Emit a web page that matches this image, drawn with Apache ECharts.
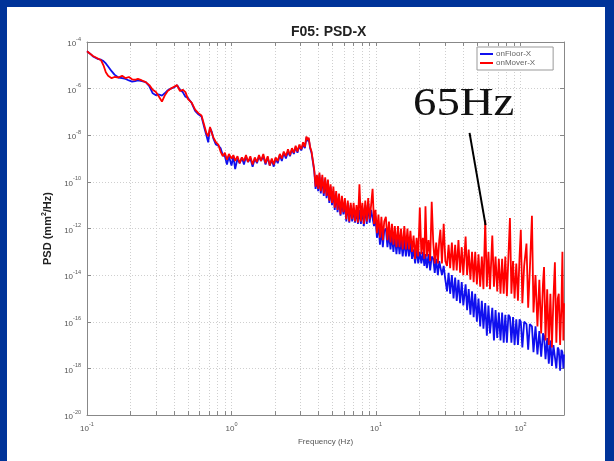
<!DOCTYPE html>
<html><head><meta charset="utf-8">
<script src="https://cdn.jsdelivr.net/npm/echarts@6/dist/echarts.min.js"></script>
<style>html,body{margin:0;padding:0;background:#fff}#c{width:614px;height:461px}</style>
</head><body><div id="c"></div>
<script>
// Frequency (Hz)
const freq = [
0.100,0.105,0.110,0.118,0.125,0.130,0.135,0.140,0.148,0.155,
0.165,0.175,0.185,0.195,0.205,0.215,0.225,0.240,0.255,0.270,
0.285,0.300,0.315,0.330,0.345,0.360,0.380,0.400,0.420,0.440,
0.460,0.480,0.500,0.530,0.560,0.590,0.620,0.650,0.670,0.690,
0.710,0.730,0.750,0.780,0.810,0.840,0.870,0.900,0.930,0.960,
1.00,1.03,1.06,1.10,1.14,1.18,1.22,1.26,1.30,1.35,
1.40,1.45,1.50,1.55,1.60,1.66,1.72,1.78,1.84,1.90,
1.96,2.02,2.09,2.16,2.23,2.30,2.38,2.46,2.54,2.62,
2.70,2.78,2.86,2.95,3.04,3.13,3.22,3.30,3.36,3.42,
3.50,3.58,3.66,3.74,3.82,3.90,3.98,4.06,4.15,4.25,
4.35,4.45,4.55,4.65,4.75,4.85,4.96,5.07,5.18,5.30,
5.42,5.55,5.68,5.81,5.95,6.09,6.23,6.38,6.53,6.68,
6.84,7.00,7.16,7.33,7.50,7.68,7.86,8.05,8.24,8.43,
8.63,8.83,9.04,9.25,9.47,9.69,9.92,10.15,10.4,10.65,
10.9,11.15,11.4,11.7,12.0,12.3,12.6,12.9,13.2,13.5,
13.85,14.2,14.55,14.9,15.3,15.7,16.1,16.5,16.9,17.3,
17.75,18.2,18.65,19.1,19.6,20.1,20.6,21.1,21.6,22.0,
22.5,23.1,23.7,24.3,24.9,25.5,26.1,26.8,27.4,27.9,
28.6,29.4,30.2,31.0,31.8,32.6,33.5,34.4,35.3,36.2,
37.2,38.2,39.2,40.2,41.7,42.7,43.8,45.0,46.2,47.4,
48.6,49.9,51.2,52.6,54.0,55.4,57.0,58.5,60.0,61.5,
63.8,65.5,67.2,69.0,70.8,72.7,74.6,76.5,78.5,80.5,
82.5,84.5,86.5,88.8,91.0,93.5,96.0,98.5,100.5,103,
106,110,113,116,120,123,127,131,135,139,
143,145.5,149,153,157,161,165,169,173,177,
181,184,188,192,195,198,200
];
// PSD (mm^2/Hz) of onFloor-X (blue)
const onFloorX = [
3.98e-5,3.16e-5,2.4e-5,1.9e-5,1.74e-5,1.51e-5,1.2e-5,8.9e-6,5.6e-6,3.98e-6,
3.0e-6,2.82e-6,2.6e-6,2.24e-6,2.0e-6,2.1e-6,2.24e-6,2.1e-6,1.9e-6,1.26e-6,
6.3e-7,5.2e-7,5.6e-7,5.0e-7,6.3e-7,8.3e-7,1.0e-6,1.12e-6,1.41e-6,8.9e-7,
7.1e-7,4.5e-7,4.0e-7,2.4e-7,1.12e-7,7.9e-8,6.3e-8,2.0e-8,1.0e-8,5.0e-9,
2.0e-8,1.41e-8,7.1e-9,4.0e-9,3.55e-9,2.8e-9,1.41e-9,1.26e-9,5.6e-10,1.26e-9,
5.0e-10,1.26e-9,3.55e-10,1.0e-9,6.3e-10,1.12e-9,5.6e-10,1.26e-9,7.1e-10,1.0e-9,
4.5e-10,1.0e-9,6.3e-10,1.26e-9,7.9e-10,1.26e-9,5.6e-10,1.12e-9,5.0e-10,8.9e-10,
4.5e-10,1.0e-9,6.3e-10,1.41e-9,7.9e-10,1.78e-9,1.0e-9,2.0e-9,1.26e-9,2.5e-9,
1.58e-9,3.16e-9,1.78e-9,3.55e-9,2.24e-9,4.0e-9,2.8e-9,7.9e-9,5.6e-9,7.1e-9,
2.8e-9,1.78e-9,7.1e-10,2.8e-10,5.0e-11,1.58e-10,4.0e-11,2.0e-10,3.16e-11,1.58e-10,
2.5e-11,1.26e-10,2.0e-11,7.9e-11,1.26e-11,6.3e-11,1.0e-11,4.0e-11,6.3e-12,3.16e-11,
5.0e-12,2.0e-11,3.55e-12,1.58e-11,4.0e-12,1.26e-11,2.0e-12,1.26e-11,1.78e-12,1.0e-11,
2.0e-12,7.9e-12,1.78e-12,6.3e-12,1.58e-12,6.3e-12,1.58e-12,7.9e-12,1.26e-12,1.0e-11,
1.58e-12,1.26e-11,1.78e-12,6.3e-12,6.3e-12,1.26e-12,3.16e-12,4.0e-13,1.58e-12,2.0e-13,
1.0e-12,1.58e-13,7.9e-13,1.0e-12,1.58e-13,6.3e-13,1.26e-13,5.0e-13,1.0e-13,5.0e-13,
7.9e-14,4.0e-13,7.9e-14,3.16e-13,6.3e-14,3.16e-13,6.3e-14,3.16e-13,6.3e-14,2.5e-13,
5.0e-14,1.26e-13,3.16e-14,1.26e-13,3.16e-14,1.0e-13,3.16e-14,1.0e-13,2.5e-14,7.9e-14,
2.0e-14,7.9e-14,1.58e-14,6.3e-14,5.0e-14,1.26e-14,5.0e-14,1.0e-14,4.0e-14,4.0e-14,
1.0e-14,2.5e-14,6.3e-15,2.0e-15,1.26e-14,1.58e-15,1.0e-14,1.0e-15,7.9e-15,7.9e-16,
6.3e-15,6.3e-16,5.0e-15,5.0e-16,4.0e-15,3.16e-16,2.5e-15,2.0e-16,2.0e-15,1.58e-16,
1.58e-15,1.0e-16,1.0e-15,6.3e-17,7.9e-16,5.0e-17,6.3e-16,2.5e-17,5.0e-16,3.16e-17,
4.0e-16,1.58e-17,3.16e-16,2.0e-17,2.5e-16,1.58e-17,2.5e-16,1.26e-17,2.0e-16,1.26e-17,
2.0e-16,1.58e-16,1.26e-17,1.58e-16,1.0e-17,1.26e-16,1.0e-17,1.26e-16,1.0e-16,7.9e-18,
1.0e-16,7.9e-17,6.3e-18,7.9e-17,6.3e-17,5.0e-18,6.3e-17,4.0e-18,4.0e-17,3.16e-18,
3.16e-17,2.5e-17,2.5e-18,2.0e-17,1.58e-18,1.58e-17,1.26e-18,1.0e-17,1.0e-17,1.0e-18,
7.9e-18,6.3e-18,7.9e-19,6.3e-18,5.0e-18,1.0e-18,4.0e-18
];
// PSD (mm^2/Hz) of onMover-X (red)
const onMoverX = [
3.98e-5,3.16e-5,2.51e-5,2.0e-5,1.66e-5,1.0e-5,5.0e-6,3.55e-6,2.82e-6,3.16e-6,
3.0e-6,3.55e-6,2.82e-6,3.16e-6,2.51e-6,2.4e-6,2.6e-6,2.24e-6,1.9e-6,1.41e-6,
8.9e-7,7.1e-7,4.5e-7,2.8e-7,5.0e-7,7.6e-7,1.0e-6,1.2e-6,1.41e-6,7.9e-7,
8.9e-7,7.1e-7,3.55e-7,2.5e-7,1.26e-7,8.9e-8,7.1e-8,2.5e-8,1.26e-8,8.9e-9,
2.24e-8,1.26e-8,7.9e-9,5.0e-9,4.0e-9,2.0e-9,1.26e-9,1.78e-9,8.9e-10,1.58e-9,
1.0e-9,1.41e-9,7.9e-10,1.26e-9,6.3e-10,1.12e-9,7.9e-10,1.41e-9,7.1e-10,1.26e-9,
5.6e-10,1.12e-9,7.1e-10,1.41e-9,7.9e-10,1.58e-9,6.3e-10,1.26e-9,5.0e-10,1.0e-9,
5.6e-10,1.12e-9,7.9e-10,1.58e-9,1.0e-9,2.0e-9,1.26e-9,2.5e-9,1.41e-9,2.8e-9,
1.78e-9,3.55e-9,2.0e-9,4.0e-9,2.5e-9,5.0e-9,3.16e-9,8.9e-9,6.3e-9,7.9e-9,
3.16e-9,2.0e-9,7.9e-10,3.16e-10,6.3e-11,2.0e-10,5.0e-11,2.5e-10,4.0e-11,2.0e-10,
3.16e-11,1.58e-10,2.5e-11,1.26e-10,1.58e-11,7.9e-11,1.26e-11,6.3e-11,7.9e-12,4.0e-11,
6.3e-12,3.16e-11,4.0e-12,2.5e-11,5.0e-12,2.0e-11,2.5e-12,1.58e-11,2.0e-12,1.26e-11,
2.5e-12,1.26e-11,2.0e-12,1.0e-11,1.78e-12,7.9e-11,2.0e-12,1.26e-11,1.58e-12,1.58e-11,
2.0e-12,2.0e-11,2.5e-12,1.0e-11,5.0e-11,1.58e-12,6.3e-12,6.3e-13,4.0e-12,4.0e-13,
3.16e-12,3.16e-13,2.0e-12,3.16e-12,3.16e-13,2.0e-12,2.5e-13,1.58e-12,2.0e-13,1.26e-12,
1.58e-13,1.26e-12,1.58e-13,1.0e-12,1.26e-13,1.26e-12,1.26e-13,1.0e-12,1.26e-13,7.9e-13,
1.0e-13,5.0e-13,5.0e-14,4.0e-13,6.3e-14,7.9e-12,7.9e-14,4.0e-13,5.0e-14,8.9e-12,
6.3e-14,3.16e-13,4.0e-14,1.41e-11,2.5e-13,3.16e-14,2.5e-13,3.16e-14,3.16e-13,8.9e-13,
3.16e-14,1.58e-12,4.0e-14,2.5e-14,2.0e-13,2.0e-14,2.5e-13,1.58e-14,2.0e-13,1.58e-14,
3.16e-13,1.26e-14,1.58e-13,1.0e-14,4.5e-13,1.0e-14,1.26e-13,6.3e-15,1.0e-13,5.0e-15,
1.0e-13,4.0e-15,7.9e-14,3.16e-15,6.3e-14,2.5e-15,2.24e-12,3.16e-15,1.0e-13,2.5e-15,
5.0e-13,3.16e-15,6.3e-14,2.0e-15,5.0e-14,1.58e-15,5.0e-14,1.58e-15,6.3e-14,1.26e-15,
6.3e-14,2.8e-12,1.58e-15,4.0e-14,1.0e-15,3.16e-14,7.9e-16,6.3e-14,8.9e-13,6.3e-16,
2.5e-14,2.24e-13,4.0e-16,1.58e-14,3.55e-12,2.5e-16,1.0e-14,6.3e-17,6.3e-15,3.16e-17,
4.0e-15,2.24e-14,1.58e-17,2.5e-15,1.0e-17,1.58e-15,7.9e-18,1.0e-15,3.55e-14,1.26e-17,
1.0e-15,1.58e-15,1.0e-17,5.0e-16,1.0e-13,1.58e-17,6.3e-16
];
// axis ticks and annotation
const minorFreqs = [0.2,0.3,0.4,0.5,0.6,0.7,0.8,0.9,2,3,4,5,6,7,8,9,20,30,40,50,60,70,80,90];
const pointerLine = [[44.4, 1.26e-8],[57.3, 1.4e-12]];
const annotText = '65Hz';

const chart = echarts.init(document.getElementById('c'), null, {renderer:'canvas'});
const zip = (a,b) => a.map((v,i)=>[v,b[i]]);
const supFmt = (v) => {
  const l = Math.log10(v); const e = Math.round(l);
  if (Math.abs(l - e) > 1e-6) return '';
  return '{b|10}{s|' + e + '}';
};
const rich = {
  b:{fontSize:8,color:'#555',fontFamily:'Liberation Sans',lineHeight:12,verticalAlign:'bottom'},
  s:{fontSize:5.5,color:'#555',fontFamily:'Liberation Sans',lineHeight:12,verticalAlign:'top'}
};
const gridLine = {color:'#cfcfcf',type:[1,2],width:1};
const minorGrid = minorFreqs.map(f=>({xAxis:f}));
const tickLen = 0.17; // decades
const minorTicks = [];
minorFreqs.forEach(f=>{
  minorTicks.push([{coord:[f,1e-20],lineStyle:{color:'#888',type:'solid'}},{coord:[f,Math.pow(10,-20+tickLen)]}]);
  minorTicks.push([{coord:[f,1e-4],lineStyle:{color:'#888',type:'solid'}},{coord:[f,Math.pow(10,-4-tickLen)]}]);
});

chart.setOption({
  animation:false,
  backgroundColor:'#ffffff',
  title:{text:'F05: PSD-X',left:286,top:20,textStyle:{fontSize:14,fontWeight:'bold',color:'#222',fontFamily:'Liberation Sans'}},
  legend:{
    data:['onFloor-X','onMover-X'],orient:'vertical',left:477,top:47,
    icon:'rect',itemWidth:13,itemHeight:2,itemGap:1,
    padding:[3,18,3,3],backgroundColor:'#fff',borderColor:'#999',borderWidth:1,borderRadius:0,
    textStyle:{fontSize:8,color:'#666',fontFamily:'Liberation Sans',padding:[0,0,0,-2]}
  },
  grid:{left:87,right:50,top:42,bottom:46},
  xAxis:[{
    type:'log',logBase:10,min:0.1,max:200,
    name:'Frequency (Hz)',nameLocation:'middle',nameGap:22,
    nameTextStyle:{fontSize:8,color:'#555',fontFamily:'Liberation Sans'},
    axisLine:{show:true,lineStyle:{color:'#888',width:1}},
    axisTick:{show:true,inside:true,length:4,lineStyle:{color:'#888'}},
    axisLabel:{formatter:supFmt,rich:rich,margin:6,showMaxLabel:false},
    splitLine:{show:true,lineStyle:gridLine}
  },{
    type:'log',logBase:10,min:0.1,max:200,position:'top',
    axisLine:{show:true,lineStyle:{color:'#888',width:1}},
    axisTick:{show:true,inside:true,length:4,lineStyle:{color:'#888'}},
    axisLabel:{show:false},splitLine:{show:false}
  }],
  yAxis:[{
    type:'log',logBase:10,min:1e-20,max:1e-4,interval:2,splitNumber:8,
    name:'PSD (mm{sup|2}/Hz)',nameLocation:'middle',nameGap:30,nameRotate:90,
    nameTextStyle:{fontSize:11,color:'#222',fontFamily:'Liberation Sans',fontWeight:'bold',
      rich:{sup:{fontSize:7,color:'#222',fontWeight:'bold',verticalAlign:'top',lineHeight:14}}},
    axisLine:{show:true,lineStyle:{color:'#888',width:1}},
    axisTick:{show:true,inside:true,length:4,lineStyle:{color:'#888'}},
    axisLabel:{formatter:supFmt,rich:rich,margin:6},
    splitLine:{show:true,lineStyle:gridLine}
  },{
    type:'log',logBase:10,min:1e-20,max:1e-4,interval:2,splitNumber:8,position:'right',
    axisLine:{show:true,lineStyle:{color:'#888',width:1}},
    axisTick:{show:true,inside:true,length:4,lineStyle:{color:'#888'}},
    axisLabel:{show:false},splitLine:{show:false}
  }],
  graphic:[
    {type:'rect',shape:{x:0,y:0,width:614,height:7},style:{fill:'#003399'},z:100},
    {type:'rect',shape:{x:0,y:0,width:7,height:461},style:{fill:'#003399'},z:100},
    {type:'rect',shape:{x:605,y:0,width:9,height:461},style:{fill:'#003399'},z:100},
    {type:'text',left:413,top:84,scaleX:1.17,z:100,style:{text:annotText,font:'40px "Liberation Serif"',fill:'#111'}}
  ],
  series:[
    {
      name:'onFloor-X',type:'line',xAxisIndex:0,yAxisIndex:0,showSymbol:false,symbol:'none',z:3,
      lineStyle:{color:'#1010ee',width:1.8},itemStyle:{color:'#1010ee'},
      data:zip(freq,onFloorX),
      markLine:{silent:true,symbol:'none',z:1,label:{show:false},animation:false,
        lineStyle:{color:'#cfcfcf',type:[1,2],width:1},
        data:minorGrid.concat(minorTicks)}
    },
    {
      name:'onMover-X',type:'line',xAxisIndex:0,yAxisIndex:0,showSymbol:false,symbol:'none',z:4,
      lineStyle:{color:'#ff0000',width:1.8},itemStyle:{color:'#ff0000'},
      data:zip(freq,onMoverX),
      markLine:{silent:true,symbol:'none',z:10,label:{show:false},animation:false,
        lineStyle:{color:'#000',type:'solid',width:2},
        data:[[{coord:pointerLine[0]},{coord:pointerLine[1]}]]}
    }
  ]
});
</script></body></html>
